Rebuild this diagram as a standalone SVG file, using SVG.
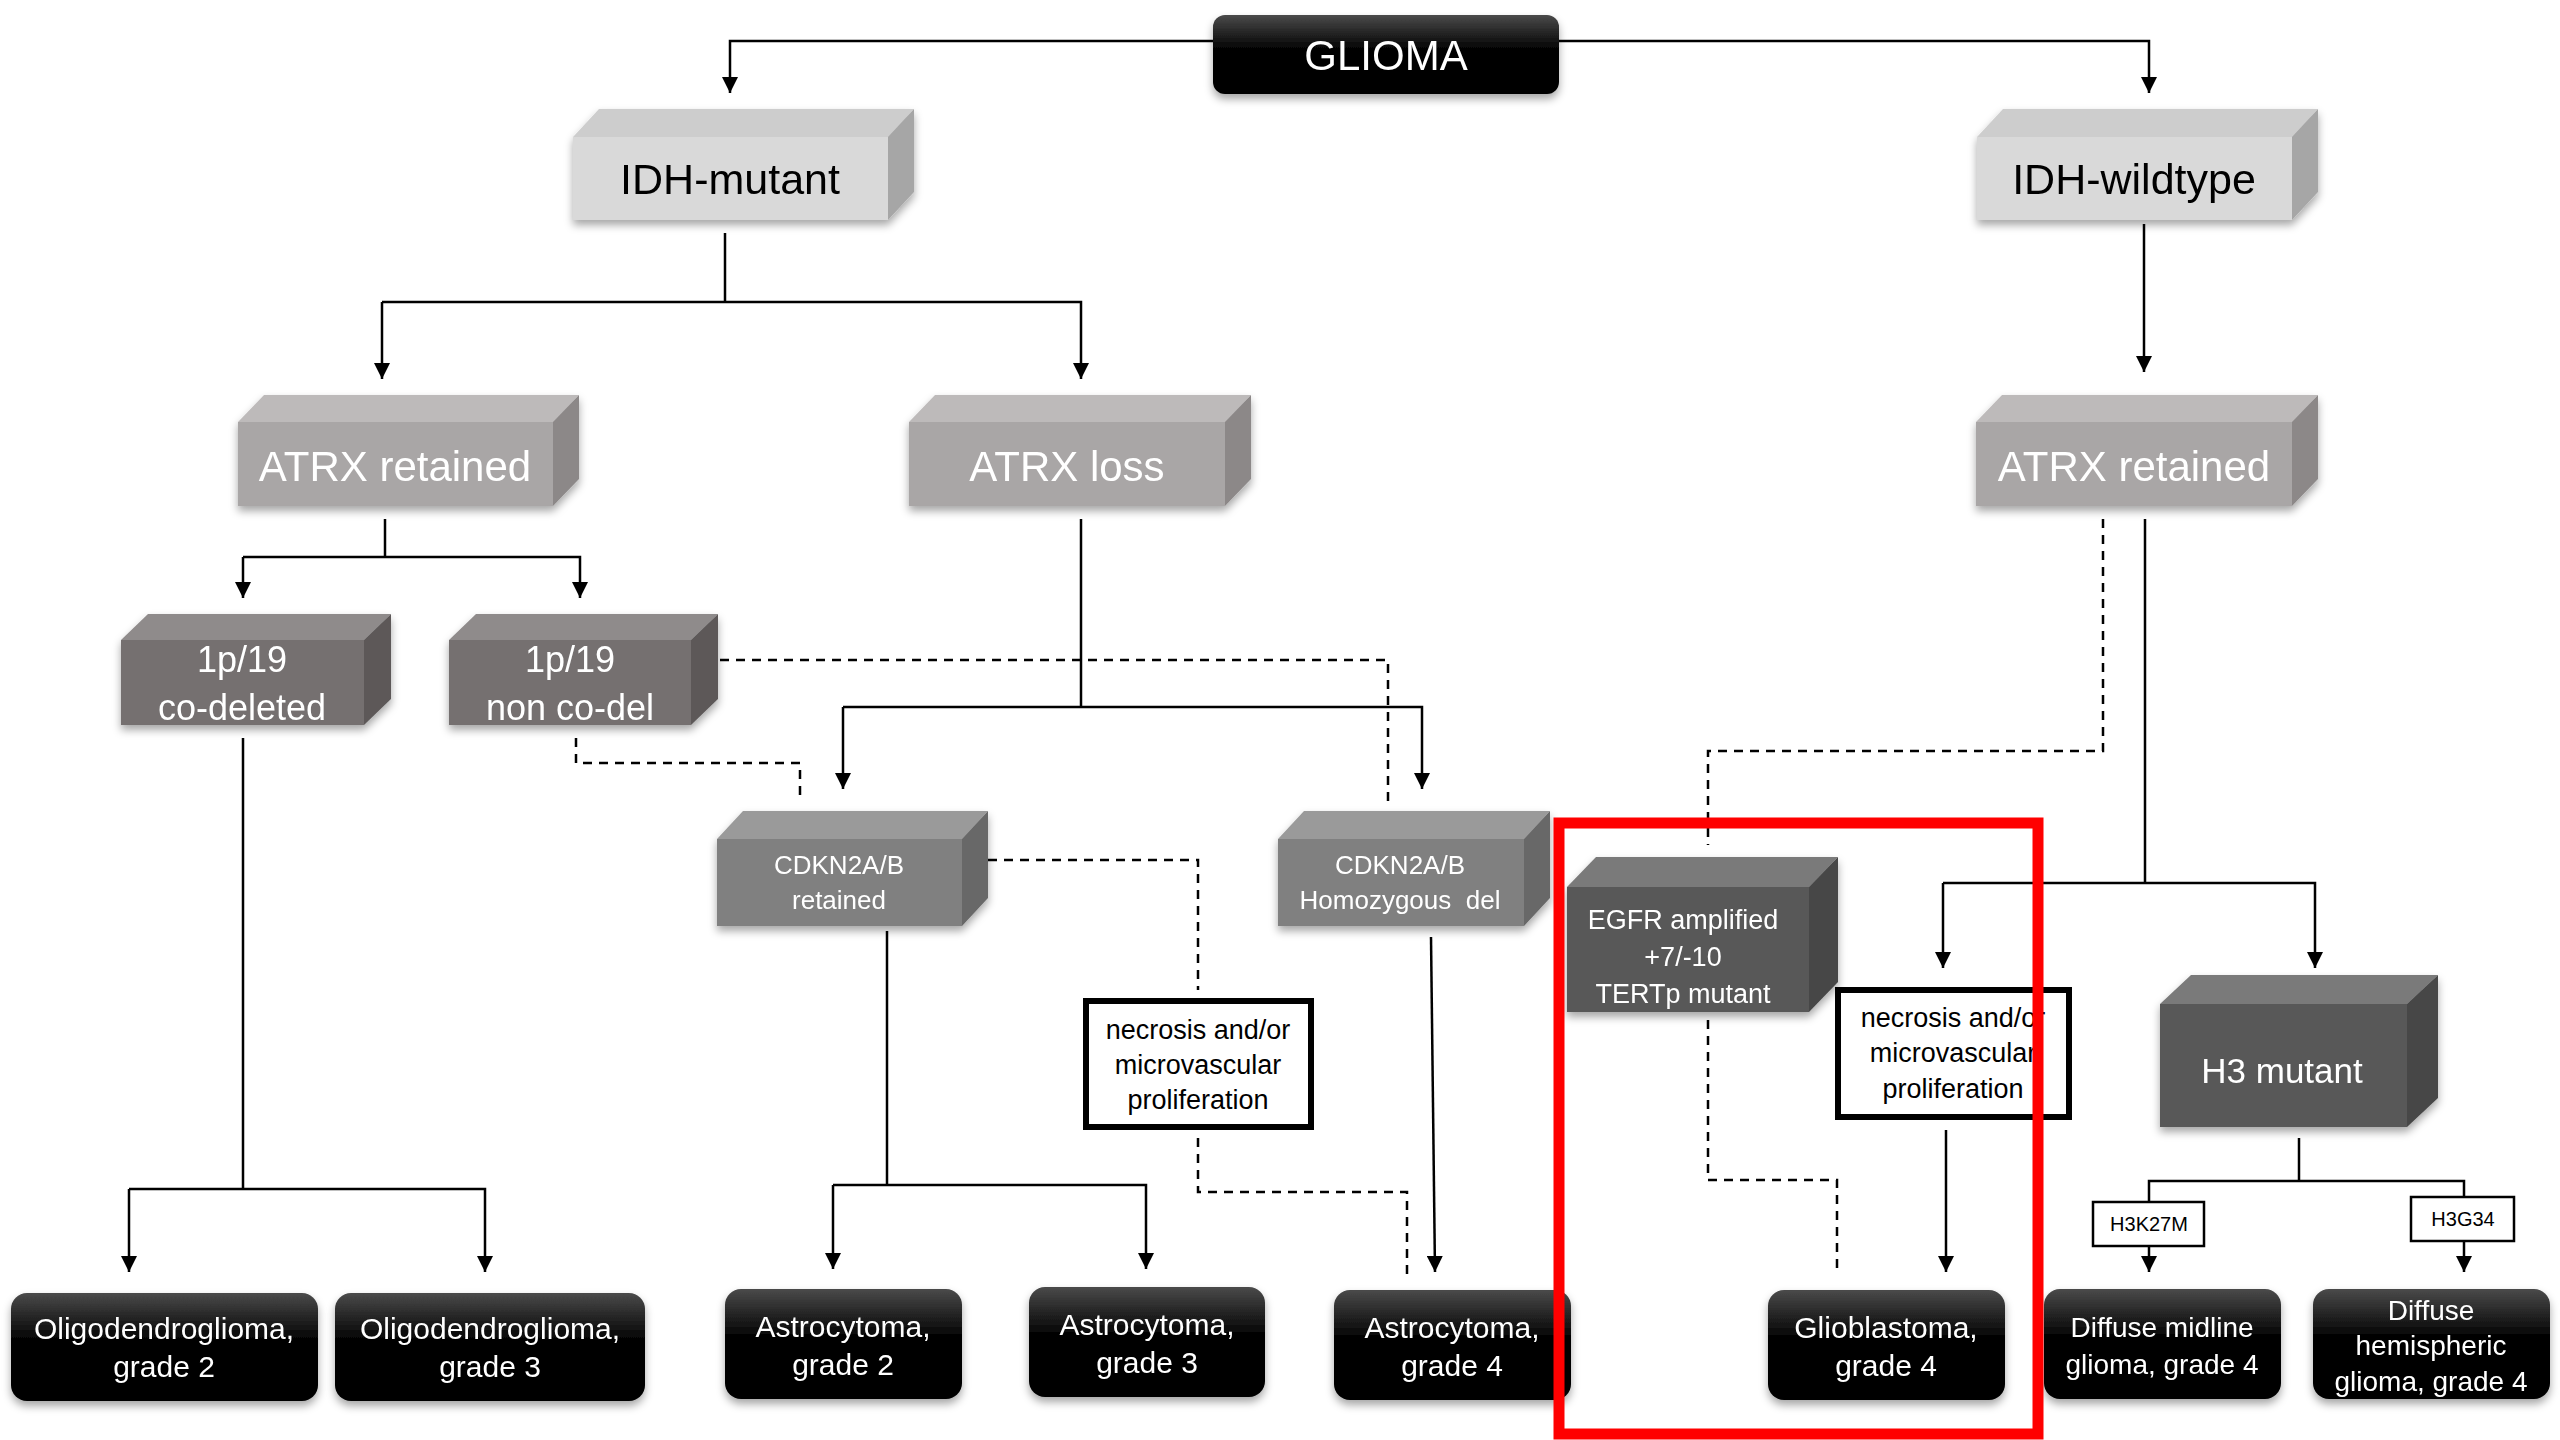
<svg xmlns="http://www.w3.org/2000/svg" width="2560" height="1440" viewBox="0 0 2560 1440">
<defs>
<linearGradient id="blk" x1="0" y1="0" x2="0" y2="1">
<stop offset="0" stop-color="#4a4a4a"/>
<stop offset="0.45" stop-color="#000"/>
<stop offset="1" stop-color="#000"/>
</linearGradient>
<filter id="sh" x="-10%" y="-10%" width="120%" height="130%">
<feDropShadow dx="0" dy="5" stdDeviation="4" flood-color="#000" flood-opacity="0.35"/>
</filter>
<marker id="ar" viewBox="0 0 10 10" refX="10" refY="5" markerWidth="16" markerHeight="16" markerUnits="userSpaceOnUse" orient="auto">
<path d="M0,0 L10,5 L0,10 z" fill="#000"/>
</marker>
</defs>
<style>
text{font-family:"Liberation Sans",Arial,sans-serif;text-anchor:middle}
.w{fill:#fff}
.k{fill:#000}
.ln{fill:none;stroke:#000;stroke-width:2.5}
.ds{fill:none;stroke:#000;stroke-width:2.5;stroke-dasharray:9 7}
.idh .f{fill:#d9d9d9}.idh .t{fill:#cdcdcd}.idh .r{fill:#a6a6a6}
.atrx .f{fill:#a9a6a6}.atrx .t{fill:#bdbaba}.atrx .r{fill:#8c8888}
.p19 .f{fill:#747070}.p19 .t{fill:#8f8b8b}.p19 .r{fill:#5d5959}
.cdk .f{fill:#808080}.cdk .t{fill:#9a9a9a}.cdk .r{fill:#676767}
.dk .f{fill:#595959}.dk .t{fill:#7a7a7a}.dk .r{fill:#474747}
.nec{fill:#fff;stroke:#000;stroke-width:6}
.sm{fill:#fff;stroke:#000;stroke-width:2.5}
</style>

<g id="connectors">
<polyline class="ln" points="1213,41 730,41 730,93" marker-end="url(#ar)"/>
<polyline class="ln" points="1559,41 2149,41 2149,93" marker-end="url(#ar)"/>
<line class="ln" x1="725" y1="233" x2="725" y2="302"/>
<polyline class="ln" points="382,302 1081,302 1081,379" marker-end="url(#ar)"/>
<line class="ln" x1="382" y1="302" x2="382" y2="379" marker-end="url(#ar)"/>
<line class="ln" x1="2144" y1="224" x2="2144" y2="372" marker-end="url(#ar)"/>
<line class="ln" x1="385" y1="519" x2="385" y2="557"/>
<polyline class="ln" points="243,557 580,557 580,598" marker-end="url(#ar)"/>
<line class="ln" x1="243" y1="557" x2="243" y2="598" marker-end="url(#ar)"/>
<line class="ln" x1="243" y1="738" x2="243" y2="1189"/>
<polyline class="ln" points="129,1189 485,1189 485,1272" marker-end="url(#ar)"/>
<line class="ln" x1="129" y1="1189" x2="129" y2="1272" marker-end="url(#ar)"/>
<polyline class="ds" points="576,738 576,763 800,763 800,800"/>
<polyline class="ds" points="720,660 1388,660 1388,805"/>
<line class="ln" x1="1081" y1="519" x2="1081" y2="707"/>
<polyline class="ln" points="843,707 1422,707 1422,789" marker-end="url(#ar)"/>
<line class="ln" x1="843" y1="707" x2="843" y2="789" marker-end="url(#ar)"/>
<line class="ln" x1="887" y1="931" x2="887" y2="1185"/>
<polyline class="ln" points="833,1185 1146,1185 1146,1269" marker-end="url(#ar)"/>
<line class="ln" x1="833" y1="1185" x2="833" y2="1269" marker-end="url(#ar)"/>
<polyline class="ds" points="988,860 1198,860 1198,990"/>
<polyline class="ds" points="1198,1138 1198,1192 1407,1192 1407,1278"/>
<line class="ln" x1="1431" y1="937" x2="1435" y2="1272" marker-end="url(#ar)"/>
<polyline class="ds" points="2103,519 2103,751 1708,751 1708,845"/>
<polyline class="ds" points="1708,1020 1708,1180 1837,1180 1837,1272"/>
<line class="ln" x1="2145" y1="519" x2="2145" y2="883"/>
<polyline class="ln" points="1943,883 2315,883 2315,968" marker-end="url(#ar)"/>
<line class="ln" x1="1943" y1="883" x2="1943" y2="968" marker-end="url(#ar)"/>
<line class="ln" x1="1946" y1="1130" x2="1946" y2="1272" marker-end="url(#ar)"/>
<line class="ln" x1="2299" y1="1138" x2="2299" y2="1181"/>
<polyline class="ln" points="2149,1202 2149,1181 2464,1181 2464,1197"/>
<line class="ln" x1="2149" y1="1246" x2="2149" y2="1272" marker-end="url(#ar)"/>
<line class="ln" x1="2464" y1="1241" x2="2464" y2="1272" marker-end="url(#ar)"/>
</g>

<g id="glioma" filter="url(#sh)">
<rect x="1213" y="15" width="346" height="79" rx="12" fill="url(#blk)"/>
<text class="w" x="1386" y="70" font-size="42">GLIOMA</text>
</g>

<g id="idh-mutant" class="idh" filter="url(#sh)">
<polygon class="t" points="573,137 599,109 914,109 888,137"/>
<polygon class="r" points="888,137 914,109 914,192 888,220"/>
<rect class="f" x="573" y="137" width="315" height="83"/>
<text class="k" x="730" y="194" font-size="43">IDH-mutant</text>
</g>
<g id="idh-wildtype" class="idh" filter="url(#sh)">
<polygon class="t" points="1977,137 2003,109 2318,109 2292,137"/>
<polygon class="r" points="2292,137 2318,109 2318,192 2292,220"/>
<rect class="f" x="1977" y="137" width="315" height="83"/>
<text class="k" x="2134" y="194" font-size="43">IDH-wildtype</text>
</g>

<g id="atrx-retained-l" class="atrx" filter="url(#sh)">
<polygon class="t" points="238,422 264,395 579,395 553,422"/>
<polygon class="r" points="553,422 579,395 579,479 553,506"/>
<rect class="f" x="238" y="422" width="315" height="84"/>
<text class="w" x="395" y="481" font-size="42">ATRX retained</text>
</g>
<g id="atrx-loss" class="atrx" filter="url(#sh)">
<polygon class="t" points="909,422 935,395 1251,395 1225,422"/>
<polygon class="r" points="1225,422 1251,395 1251,479 1225,506"/>
<rect class="f" x="909" y="422" width="316" height="84"/>
<text class="w" x="1067" y="481" font-size="42">ATRX loss</text>
</g>
<g id="atrx-retained-r" class="atrx" filter="url(#sh)">
<polygon class="t" points="1976,422 2002,395 2318,395 2292,422"/>
<polygon class="r" points="2292,422 2318,395 2318,479 2292,506"/>
<rect class="f" x="1976" y="422" width="316" height="84"/>
<text class="w" x="2134" y="481" font-size="42">ATRX retained</text>
</g>

<g id="p19-codel" class="p19" filter="url(#sh)">
<polygon class="t" points="121,640 148,614 391,614 364,640"/>
<polygon class="r" points="364,640 391,614 391,699 364,725"/>
<rect class="f" x="121" y="640" width="243" height="85"/>
<text class="w" x="242" y="672" font-size="36">1p/19</text>
<text class="w" x="242" y="720" font-size="36">co-deleted</text>
</g>
<g id="p19-noncodel" class="p19" filter="url(#sh)">
<polygon class="t" points="449,640 476,614 718,614 691,640"/>
<polygon class="r" points="691,640 718,614 718,699 691,725"/>
<rect class="f" x="449" y="640" width="242" height="85"/>
<text class="w" x="570" y="672" font-size="36">1p/19</text>
<text class="w" x="570" y="720" font-size="36">non co-del</text>
</g>

<g id="cdkn-retained" class="cdk" filter="url(#sh)">
<polygon class="t" points="717,839 743,811 988,811 962,839"/>
<polygon class="r" points="962,839 988,811 988,898 962,926"/>
<rect class="f" x="717" y="839" width="245" height="87"/>
<text class="w" x="839" y="874" font-size="26">CDKN2A/B</text>
<text class="w" x="839" y="909" font-size="26">retained</text>
</g>
<g id="cdkn-homdel" class="cdk" filter="url(#sh)">
<polygon class="t" points="1278,839 1304,811 1550,811 1524,839"/>
<polygon class="r" points="1524,839 1550,811 1550,898 1524,926"/>
<rect class="f" x="1278" y="839" width="246" height="87"/>
<text class="w" x="1400" y="874" font-size="26">CDKN2A/B</text>
<text class="w" x="1400" y="909" font-size="26" xml:space="preserve">Homozygous  del</text>
</g>

<g id="egfr" class="dk" filter="url(#sh)">
<polygon class="t" points="1567,887 1596,857 1838,857 1809,887"/>
<polygon class="r" points="1809,887 1838,857 1838,982 1809,1012"/>
<rect class="f" x="1567" y="887" width="242" height="125"/>
<text class="w" x="1683" y="929" font-size="27">EGFR amplified</text>
<text class="w" x="1683" y="966" font-size="27">+7/-10</text>
<text class="w" x="1683" y="1003" font-size="27">TERTp mutant</text>
</g>

<g id="h3-mutant" class="dk" filter="url(#sh)">
<polygon class="t" points="2160,1004 2191,975 2438,975 2407,1004"/>
<polygon class="r" points="2407,1004 2438,975 2438,1098 2407,1127"/>
<rect class="f" x="2160" y="1004" width="247" height="123"/>
<text class="w" x="2282" y="1083" font-size="35">H3 mutant</text>
</g>

<g id="necrosis-1">
<rect class="nec" x="1086" y="1001" width="225" height="126"/>
<text class="k" x="1198" y="1039" font-size="27">necrosis and/or</text>
<text class="k" x="1198" y="1074" font-size="27">microvascular</text>
<text class="k" x="1198" y="1109" font-size="27">proliferation</text>
</g>
<g id="necrosis-2">
<rect class="nec" x="1838" y="990" width="231" height="127"/>
<text class="k" x="1953" y="1027" font-size="27">necrosis and/or</text>
<text class="k" x="1953" y="1062" font-size="27">microvascular</text>
<text class="k" x="1953" y="1098" font-size="27">proliferation</text>
</g>

<g id="h3k27m">
<rect class="sm" x="2093" y="1202" width="111" height="44"/>
<text class="k" x="2149" y="1231" font-size="20">H3K27M</text>
</g>
<g id="h3g34">
<rect class="sm" x="2411" y="1197" width="103" height="44"/>
<text class="k" x="2463" y="1226" font-size="20">H3G34</text>
</g>

<g id="oligo-2" filter="url(#sh)">
<rect x="11" y="1293" width="307" height="108" rx="16" fill="url(#blk)"/>
<text class="w" x="164" y="1339" font-size="30">Oligodendroglioma,</text>
<text class="w" x="164" y="1377" font-size="30">grade 2</text>
</g>
<g id="oligo-3" filter="url(#sh)">
<rect x="335" y="1293" width="310" height="108" rx="16" fill="url(#blk)"/>
<text class="w" x="490" y="1339" font-size="30">Oligodendroglioma,</text>
<text class="w" x="490" y="1377" font-size="30">grade 3</text>
</g>
<g id="astro-2" filter="url(#sh)">
<rect x="725" y="1289" width="237" height="110" rx="16" fill="url(#blk)"/>
<text class="w" x="843" y="1337" font-size="30">Astrocytoma,</text>
<text class="w" x="843" y="1375" font-size="30">grade 2</text>
</g>
<g id="astro-3" filter="url(#sh)">
<rect x="1029" y="1287" width="236" height="110" rx="16" fill="url(#blk)"/>
<text class="w" x="1147" y="1335" font-size="30">Astrocytoma,</text>
<text class="w" x="1147" y="1373" font-size="30">grade 3</text>
</g>
<g id="astro-4" filter="url(#sh)">
<rect x="1334" y="1290" width="237" height="110" rx="16" fill="url(#blk)"/>
<text class="w" x="1452" y="1338" font-size="30">Astrocytoma,</text>
<text class="w" x="1452" y="1376" font-size="30">grade 4</text>
</g>
<g id="glioblastoma-4" filter="url(#sh)">
<rect x="1768" y="1290" width="237" height="110" rx="16" fill="url(#blk)"/>
<text class="w" x="1886" y="1338" font-size="30">Glioblastoma,</text>
<text class="w" x="1886" y="1376" font-size="30">grade 4</text>
</g>
<g id="dmg-4" filter="url(#sh)">
<rect x="2044" y="1289" width="237" height="110" rx="16" fill="url(#blk)"/>
<text class="w" x="2162" y="1337" font-size="28">Diffuse midline</text>
<text class="w" x="2162" y="1374" font-size="28">glioma, grade 4</text>
</g>
<g id="dhg-4" filter="url(#sh)">
<rect x="2313" y="1289" width="237" height="110" rx="16" fill="url(#blk)"/>
<text class="w" x="2431" y="1320" font-size="28">Diffuse</text>
<text class="w" x="2431" y="1355" font-size="28">hemispheric</text>
<text class="w" x="2431" y="1391" font-size="28">glioma, grade 4</text>
</g>

<rect id="highlight" x="1559" y="823" width="479" height="611" fill="none" stroke="#ff0000" stroke-width="11"/>
</svg>
